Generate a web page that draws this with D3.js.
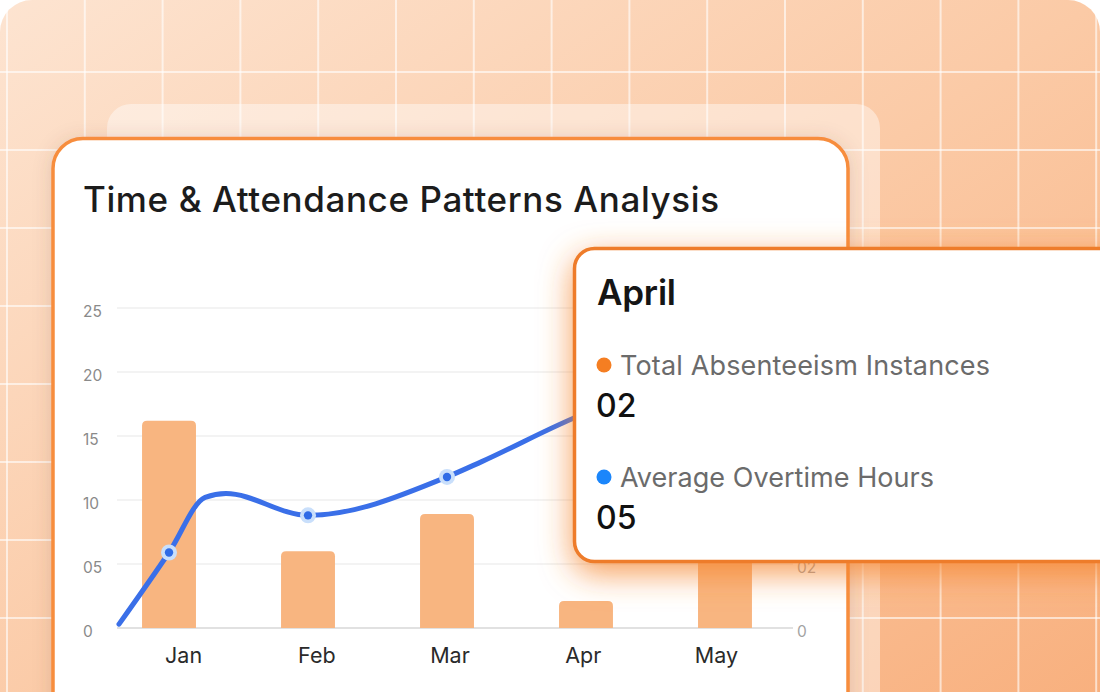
<!DOCTYPE html>
<html><head><meta charset="utf-8">
<script src="https://cdn.jsdelivr.net/npm/d3@7"></script>
<style>html,body{margin:0;padding:0;background:#fff;overflow:hidden}svg{display:block;font-family:Inter,"Noto Sans",sans-serif}</style>
</head><body>
<svg id="chart" width="1100" height="692"></svg>
<script>
// ---------- data ----------
const months = ["Jan", "Feb", "Mar", "Apr", "May"];
const absenteeism = [16.2, 6.0, 8.9, 2.1, 13.0];
// overtime curve: position in month units (0 = Jan) and value (left axis units)
const overtimePos  = [-0.36, 0, 0.26, 0.41, 1, 2, 2.25, 3, 4, 4.4];
const overtimeVals = [0.3, 5.9, 10.2, 10.5, 8.8, 11.8, 13.0, 16.8, 20.0, 21.0];
const leftTicks = [0, 5, 10, 15, 20, 25];
const rightTicks = [0, 2]; // the higher right-axis ticks sit under the tooltip
const title = "Time & Attendance Patterns Analysis";
const tooltipMonth = "April";
const seriesNames = ["Total Absenteeism Instances", "Average Overtime Hours"];
const seriesColors = ["#f57e22", "#1b86fb"];
const tooltipValues = ["02", "05"];

// ---------- setup ----------
const svg = d3.select("#chart");
const W = 1100, H = 692;
const defs = svg.append("defs");
const grad = defs.append("linearGradient").attr("id", "bgGrad")
  .attr("x1", 0).attr("y1", 0).attr("x2", 1).attr("y2", 1);
grad.append("stop").attr("offset", 0).attr("stop-color", "#fde4d1");
grad.append("stop").attr("offset", 0.5).attr("stop-color", "#fbcaa6");
grad.append("stop").attr("offset", 1).attr("stop-color", "#f8ae7b");

const cardShadow = defs.append("filter").attr("id", "cardShadow")
  .attr("x", "-10%").attr("y", "-10%").attr("width", "120%").attr("height", "130%");
cardShadow.append("feDropShadow").attr("dx", 0).attr("dy", 2).attr("stdDeviation", 9)
  .attr("flood-color", "#6b4a35").attr("flood-opacity", 0.18);

const tipGlow = defs.append("filter").attr("id", "tipGlow")
  .attr("x", "-20%").attr("y", "-30%").attr("width", "140%").attr("height", "170%");
tipGlow.append("feDropShadow").attr("dx", 0).attr("dy", 10).attr("stdDeviation", 16)
  .attr("flood-color", "#f5842c").attr("flood-opacity", 0.8);

// background
svg.append("rect").attr("x", 0).attr("y", 0).attr("width", W).attr("height", H + 60)
  .attr("rx", 32).attr("fill", "url(#bgGrad)");
const bgGrid = svg.append("g").attr("stroke", "#ffffff").attr("stroke-opacity", 0.6).attr("stroke-width", 2);
d3.range(7, W + 10, 77.8).forEach(x => bgGrid.append("line").attr("x1", x).attr("x2", x).attr("y1", 0).attr("y2", H));
d3.range(-6, H + 10, 78).forEach(yv => bgGrid.append("line").attr("x1", 0).attr("x2", W).attr("y1", yv).attr("y2", yv));

// translucent layer
svg.append("rect").attr("x", 107).attr("y", 104).attr("width", 773).attr("height", 700)
  .attr("rx", 24).attr("fill", "#ffffff").attr("fill-opacity", 0.42);

// card
svg.append("rect").attr("x", 53).attr("y", 138.5).attr("width", 795).attr("height", 700)
  .attr("rx", 30).attr("fill", "#ffffff").attr("stroke", "#f78d3e").attr("stroke-width", 3.5)
  .attr("filter", "url(#cardShadow)");

function fitWidth(sel, target) {
  const n = sel.text().length;
  const w = sel.node().getComputedTextLength();
  sel.attr("letter-spacing", ((target - w) / (n - 1)).toFixed(3));
}

const titleT = svg.append("text").attr("x", 83).attr("y", 212)
  .attr("font-size", 35).attr("font-weight", 500).attr("fill", "#1c1c1c").text(title);
fitWidth(titleT, 636);

// ---------- scales ----------
const y = d3.scaleLinear().domain([0, 25]).range([628, 308]);
const yR = d3.scaleLinear().domain([0, 10]).range([628, 308]);
const xBar = d3.scaleBand().domain(months).range([118, 776]).paddingInner(0.612).paddingOuter(0.173);
const xLabel = d3.scaleBand().domain(months).range([117, 783]);
const c0 = xBar(months[0]) + xBar.bandwidth() / 2;
const xPos = d3.scaleLinear().domain([0, months.length - 1])
  .range([c0, c0 + xBar.step() * (months.length - 1)]);
const fmt = d => d === 0 ? "0" : d3.format("02")(d);

// gridlines
const grid = svg.append("g");
grid.selectAll("line").data(leftTicks).join("line")
  .attr("x1", 117).attr("x2", 793).attr("y1", d => y(d)).attr("y2", d => y(d))
  .attr("stroke", d => d === 0 ? "#e1e1e1" : "#efefef").attr("stroke-width", d => d === 0 ? 2 : 1.5);

// axes labels
const axL = svg.append("g").attr("transform", "translate(83,4)")
  .call(d3.axisRight(y).tickValues(leftTicks).tickSize(0).tickPadding(0).tickFormat(fmt));
axL.select(".domain").remove();
axL.selectAll("text").attr("font-size", 15.5).attr("fill", "#8a8a8a").attr("font-family", "Inter");

const axR = svg.append("g").attr("transform", "translate(797,4)")
  .call(d3.axisRight(yR).tickValues(rightTicks).tickSize(0).tickPadding(0).tickFormat(fmt));
axR.select(".domain").remove();
axR.selectAll("text").attr("font-size", 15.5).attr("fill", "#a3a3a3").attr("font-family", "Inter");

const axB = svg.append("g").attr("transform", "translate(0,628)")
  .call(d3.axisBottom(xLabel).tickSize(0));
axB.select(".domain").remove();
axB.selectAll("text").attr("y", 35).attr("dy", 0).attr("font-size", 21.5)
  .attr("fill", "#2a2a2a").attr("font-family", "Inter");

// bars (rounded top corners)
const r = 5;
svg.append("g").selectAll("path").data(months.map((m, i) => ({ m, v: absenteeism[i] }))).join("path")
  .attr("fill", "#f8b580")
  .attr("d", d => {
    const x0 = xBar(d.m), x1 = x0 + xBar.bandwidth(), y0 = y(d.v), yb = y(0);
    return `M${x0},${yb}V${y0 + r}Q${x0},${y0} ${x0 + r},${y0}H${x1 - r}Q${x1},${y0} ${x1},${y0 + r}V${yb}Z`;
  });

// line
const linePts = overtimePos.map((p, i) => ({ p, v: overtimeVals[i] }));
svg.append("path").datum(linePts)
  .attr("fill", "none").attr("stroke", "#3a6fe8").attr("stroke-width", 5)
  .attr("stroke-linecap", "round").attr("stroke-linejoin", "round")
  .attr("d", d3.line().x(d => xPos(d.p)).y(d => y(d.v)).curve(d3.curveMonotoneX));

// markers at month positions
const markers = linePts.filter(d => Number.isInteger(d.p) && d.p >= 0);
const mg = svg.append("g").selectAll("g").data(markers).join("g")
  .attr("transform", d => `translate(${xPos(d.p)},${y(d.v)})`);
mg.append("circle").attr("r", 8).attr("fill", "#c9dffb");
mg.append("circle").attr("r", 4.2).attr("fill", "#2f6be6");

// ---------- tooltip ----------
const tip = svg.append("g");
tip.append("rect").attr("x", 574.5).attr("y", 248.5).attr("width", 620).attr("height", 313)
  .attr("rx", 20).attr("fill", "#ffffff").attr("stroke", "#ee7b2a").attr("stroke-width", 3.5)
  .attr("filter", "url(#tipGlow)");
const monthT = tip.append("text").attr("x", 597).attr("y", 305).attr("font-size", 35).attr("font-weight", 600)
  .attr("fill", "#151515").text(tooltipMonth);
fitWidth(monthT, 79);
const rowsY = [375, 487];
seriesNames.forEach((name, i) => {
  tip.append("circle").attr("cx", 604).attr("cy", rowsY[i] - 10).attr("r", 7.5).attr("fill", seriesColors[i]);
  const t = tip.append("text").attr("x", 620).attr("y", rowsY[i]).attr("font-size", 27)
    .attr("fill", "#6b6b6b").text(name);
  fitWidth(t, i === 0 ? 370 : 314);
  tip.append("text").attr("x", 596).attr("y", rowsY[i] + 42).attr("font-size", 32).attr("font-weight", 500)
    .attr("fill", "#111111").text(tooltipValues[i]);
});
</script>
</body></html>
